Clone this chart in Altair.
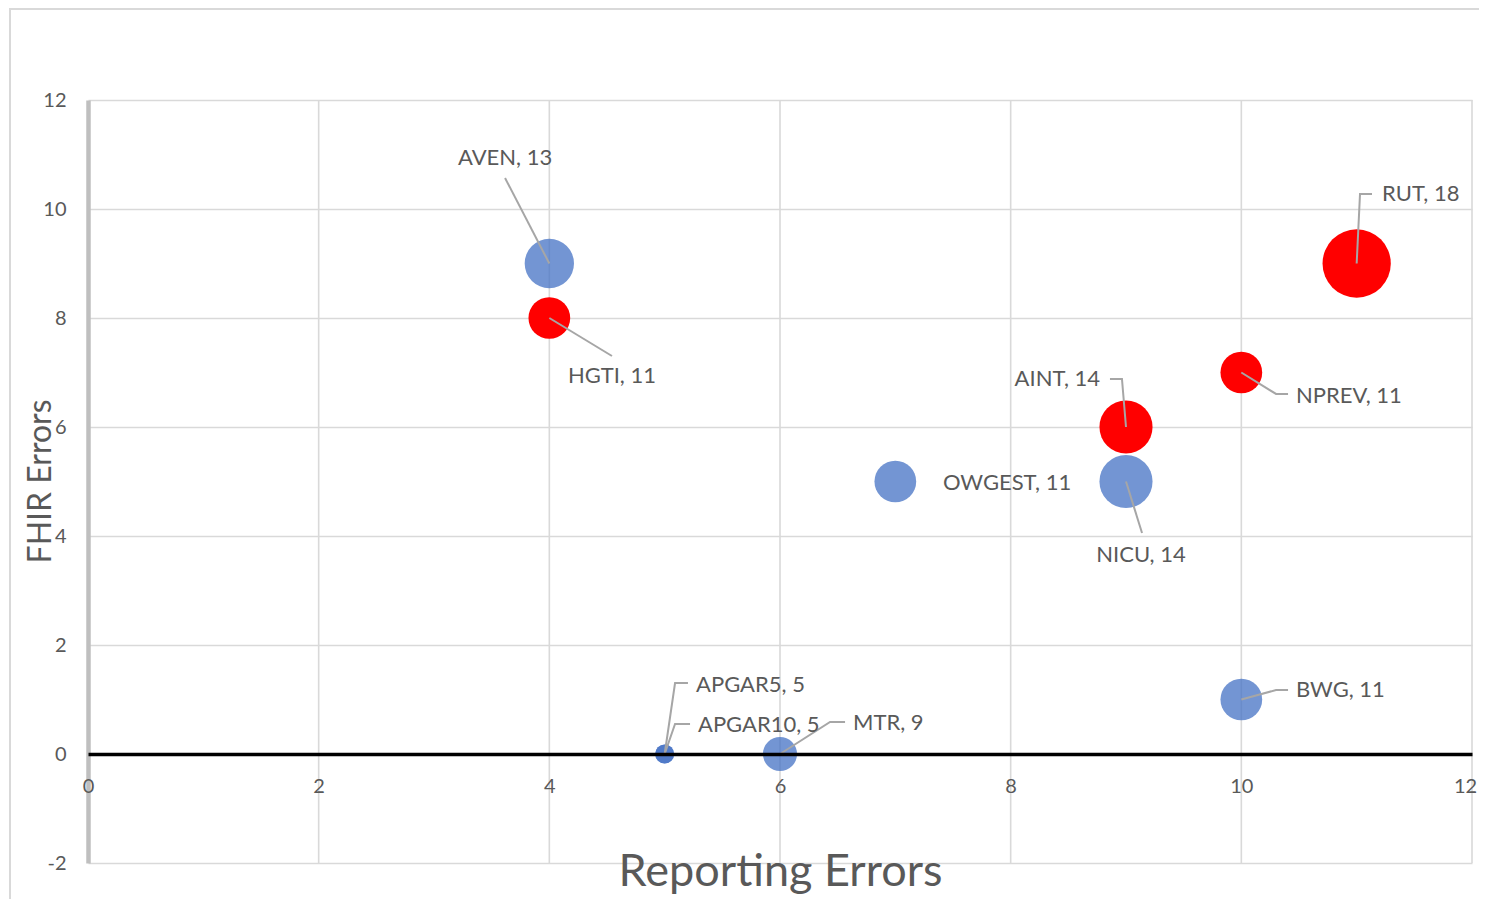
import altair as alt
import pandas as pd

# ---------------- data ----------------
names = ["AVEN", "HGTI", "RUT", "NPREV", "AINT", "OWGEST", "NICU", "BWG", "APGAR5", "APGAR10", "MTR"]
reporting_errors = [4, 4, 11, 10, 9, 7, 9, 10, 5, 5, 6]
fhir_errors = [9, 8, 9, 7, 6, 5, 5, 1, 0, 0, 0]
bubble_values = [13, 11, 18, 11, 14, 11, 14, 11, 5, 5, 9]
groups = ["Group 1", "Group 2", "Group 2", "Group 2", "Group 2", "Group 1",
          "Group 1", "Group 1", "Group 1", "Group 1", "Group 1"]

x_ticks = [0, 2, 4, 6, 8, 10, 12]
y_ticks = [-2, 0, 2, 4, 6, 8, 10, 12]

# ------------- label placement (annotation layout, data units) -------------
label_x = [3.616, 4.543, 11.22, 10.474, 8.775, 7.413, 9.130, 10.474, 5.272, 5.289, 6.633]
label_y = [10.936, 6.936, 10.275, 6.569, 6.881, 4.972, 3.651, 1.174, 1.266, 0.532, 0.569]
label_align = ["center", "center", "left", "left", "right", "left", "center", "left", "left", "left", "left"]
leader_paths = {
    "AVEN": [(3.616, 10.569)],
    "HGTI": [(4.543, 7.303)],
    "RUT": [(11.029, 10.275), (11.133, 10.275)],
    "NPREV": [(10.301, 6.606), (10.405, 6.606)],
    "AINT": [(8.965, 6.881), (8.861, 6.881)],
    "NICU": [(9.139, 4.055)],
    "BWG": [(10.301, 1.174), (10.405, 1.174)],
    "APGAR5": [(5.090, 1.303), (5.202, 1.303)],
    "APGAR10": [(5.090, 0.550), (5.220, 0.550)],
    "MTR": [(6.434, 0.587), (6.564, 0.587)],
}

df = pd.DataFrame({
    "name": names,
    "x": reporting_errors,
    "y": fhir_errors,
    "value": bubble_values,
    "group": groups,
    "lx": label_x,
    "ly": label_y,
    "align": label_align,
})
df["label"] = df["name"] + ", " + df["value"].astype(str)

rows = []
for n, xv, yv in zip(names, reporting_errors, fhir_errors):
    if n in leader_paths:
        rows.append({"name": n, "step": 0, "x": xv, "y": yv})
        for i, (px, py) in enumerate(leader_paths[n], start=1):
            rows.append({"name": n, "step": i, "x": px, "y": py})
leaders = pd.DataFrame(rows)

grid_df = pd.DataFrame({"x": x_ticks[1:]})

FONT = "Lato"
GREY_TXT = "#595959"

xscale = alt.Scale(domain=[0, 12], nice=False, zero=False)
yscale = alt.Scale(domain=[-2, 12], nice=False, zero=False)

x_axis = alt.Axis(
    orient="bottom", offset=-109, values=x_ticks, grid=False, ticks=False, zindex=1,
    domainColor="#000000", domainWidth=3.5, labelFontSize=20, labelColor=GREY_TXT,
    labelPadding=22, labelFlush=False, labelFont=FONT, labelExpr="toString(datum.value)",
    labelOffset={"condition": {"test": "datum.value === 12", "value": -7}, "value": 0},
    title="Reporting Errors", titleFontSize=45, titleColor=GREY_TXT,
    titleFontWeight="normal", titleFont=FONT, titleY=131, titleBaseline="alphabetic",
)
y_axis = alt.Axis(
    values=y_ticks, grid=True, gridColor="#D9D9D9", gridWidth=1.6, ticks=False,
    domainColor="#BFBFBF", domainWidth=4.5, labelFontSize=20, labelColor=GREY_TXT,
    labelPadding=22, labelFont=FONT, labelExpr="toString(datum.value)",
    title="FHIR Errors", titleFontSize=32, titleColor=GREY_TXT, titleFontWeight="normal",
    titleFont=FONT, titleX=-38, titleY=381, titleBaseline="alphabetic", titleAngle=-90,
    titleAlign="center",
)

frame = alt.Chart(pd.DataFrame({"k": [0]})).mark_rect(
    filled=False, stroke="#D9D9D9", strokeWidth=2
).encode(x=alt.value(-78), x2=alt.value(1420), y=alt.value(-91), y2=alt.value(900))

vgrid = alt.Chart(grid_df).mark_rule(color="#D9D9D9", strokeWidth=1.6).encode(
    x=alt.X("x:Q", scale=xscale),
)

bubbles = alt.Chart(df).mark_circle().encode(
    x=alt.X("x:Q", scale=xscale, axis=x_axis),
    y=alt.Y("y:Q", scale=yscale, axis=y_axis),
    size=alt.Size("value:Q", scale=alt.Scale(type="pow", exponent=2, domain=[0, 18], range=[0, 4662]), legend=None),
    color=alt.Color("group:N", scale=alt.Scale(domain=["Group 1", "Group 2"], range=["#4472C4", "#FF0000"]), legend=None),
    opacity=alt.Opacity("group:N", scale=alt.Scale(domain=["Group 1", "Group 2"], range=[0.75, 1.0]), legend=None),
    order=alt.Order("group:N", sort="descending"),
)

lines = alt.Chart(leaders).mark_line(color="#A6A6A6", strokeWidth=2).encode(
    x=alt.X("x:Q", scale=xscale),
    y=alt.Y("y:Q", scale=yscale),
    detail="name:N",
    order="step:O",
)

texts = []
for a in ["left", "center", "right"]:
    texts.append(
        alt.Chart(df).transform_filter(alt.datum.align == a).mark_text(
            align=a, baseline="middle", fontSize=22, font=FONT, color=GREY_TXT
        ).encode(
            x=alt.X("lx:Q", scale=xscale),
            y=alt.Y("ly:Q", scale=yscale),
            text="label:N",
        )
    )

chart = alt.layer(frame, vgrid, bubbles, lines, *texts).properties(
    width=1384, height=763,
    autosize=alt.AutoSizeParams(type="none"),
    padding={"left": 80, "top": 92, "right": 7, "bottom": 36},
).configure_view(strokeWidth=0)

chart.save("out.html", embed_options={"renderer": "svg", "actions": False})
